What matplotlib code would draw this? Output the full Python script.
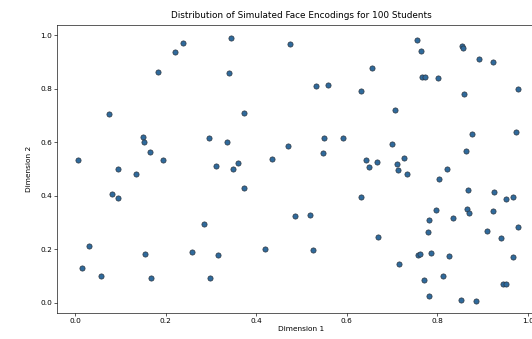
import matplotlib
matplotlib.use('Agg')
import matplotlib.pyplot as plt


# simulated face encodings (dim 1, dim 2)
DIM1 = [0.238, 0.220, 0.184, 0.075, 0.150, 0.153, 0.295, 0.166, 0.007, 0.195,
        0.094, 0.134, 0.344, 0.474, 0.340, 0.533, 0.558, 0.632, 0.374, 0.335,
        0.551, 0.592, 0.471, 0.547, 0.361, 0.311, 0.349, 0.436, 0.642, 0.649,
        0.657, 0.756, 0.764, 0.855, 0.856, 0.893, 0.923, 0.767, 0.773, 0.801,
        0.859, 0.979, 0.706, 0.877, 0.975, 0.700, 0.863, 0.666, 0.726, 0.712,
        0.714, 0.734, 0.821, 0.082, 0.096, 0.285, 0.030, 0.155, 0.258, 0.015,
        0.057, 0.168, 0.298, 0.374, 0.631, 0.486, 0.520, 0.316, 0.419, 0.525,
        0.803, 0.869, 0.926, 0.953, 0.968, 0.797, 0.865, 0.870, 0.924, 0.781,
        0.836, 0.779, 0.979, 0.910, 0.670, 0.941, 0.758, 0.762, 0.786, 0.825,
        0.968, 0.715, 0.771, 0.812, 0.945, 0.953, 0.783, 0.853, 0.886]
DIM2 = [0.972, 0.938, 0.862, 0.704, 0.621, 0.602, 0.616, 0.562, 0.532, 0.532,
        0.501, 0.481, 0.988, 0.965, 0.857, 0.811, 0.812, 0.792, 0.710, 0.601,
        0.617, 0.616, 0.586, 0.560, 0.522, 0.510, 0.501, 0.537, 0.533, 0.509,
        0.877, 0.981, 0.939, 0.958, 0.950, 0.912, 0.899, 0.843, 0.845, 0.838,
        0.780, 0.797, 0.721, 0.629, 0.638, 0.592, 0.568, 0.525, 0.542, 0.519,
        0.498, 0.481, 0.499, 0.408, 0.391, 0.296, 0.211, 0.184, 0.189, 0.129,
        0.099, 0.092, 0.092, 0.430, 0.396, 0.323, 0.330, 0.178, 0.203, 0.198,
        0.461, 0.420, 0.414, 0.389, 0.397, 0.347, 0.349, 0.335, 0.342, 0.310,
        0.316, 0.264, 0.284, 0.268, 0.248, 0.241, 0.178, 0.183, 0.185, 0.177,
        0.173, 0.147, 0.086, 0.100, 0.072, 0.070, 0.027, 0.011, 0.009]

fig = plt.figure(figsize=(5.32, 3.39), dpi=100)
# the reference is cropped on the right, so the axes run past the edge
ax = fig.add_axes([0.107, 0.077, 0.919, 0.849])

ax.scatter(DIM1, DIM2, s=14, color='#2f6a9c', edgecolors='#2b3540',
           linewidths=0.5)

ax.set_xlim(-0.04, 1.04)
ax.set_ylim(-0.037, 1.037)
ax.set_xticks([0.0, 0.2, 0.4, 0.6, 0.8, 1.0])
ax.set_yticks([0.0, 0.2, 0.4, 0.6, 0.8, 1.0])
ax.tick_params(labelsize=5.3, width=0.45, length=2, pad=1.5)
for sp in ax.spines.values():
    sp.set_linewidth(0.45)

ax.set_title('Distribution of Simulated Face Encodings for 100 Students',
             fontsize=6.4, pad=5)
ax.set_xlabel('Dimension 1', fontsize=5.3, labelpad=1.5)
ax.set_ylabel('Dimension 2', fontsize=5.3, labelpad=6)

fig.savefig('out.png', dpi=100)
